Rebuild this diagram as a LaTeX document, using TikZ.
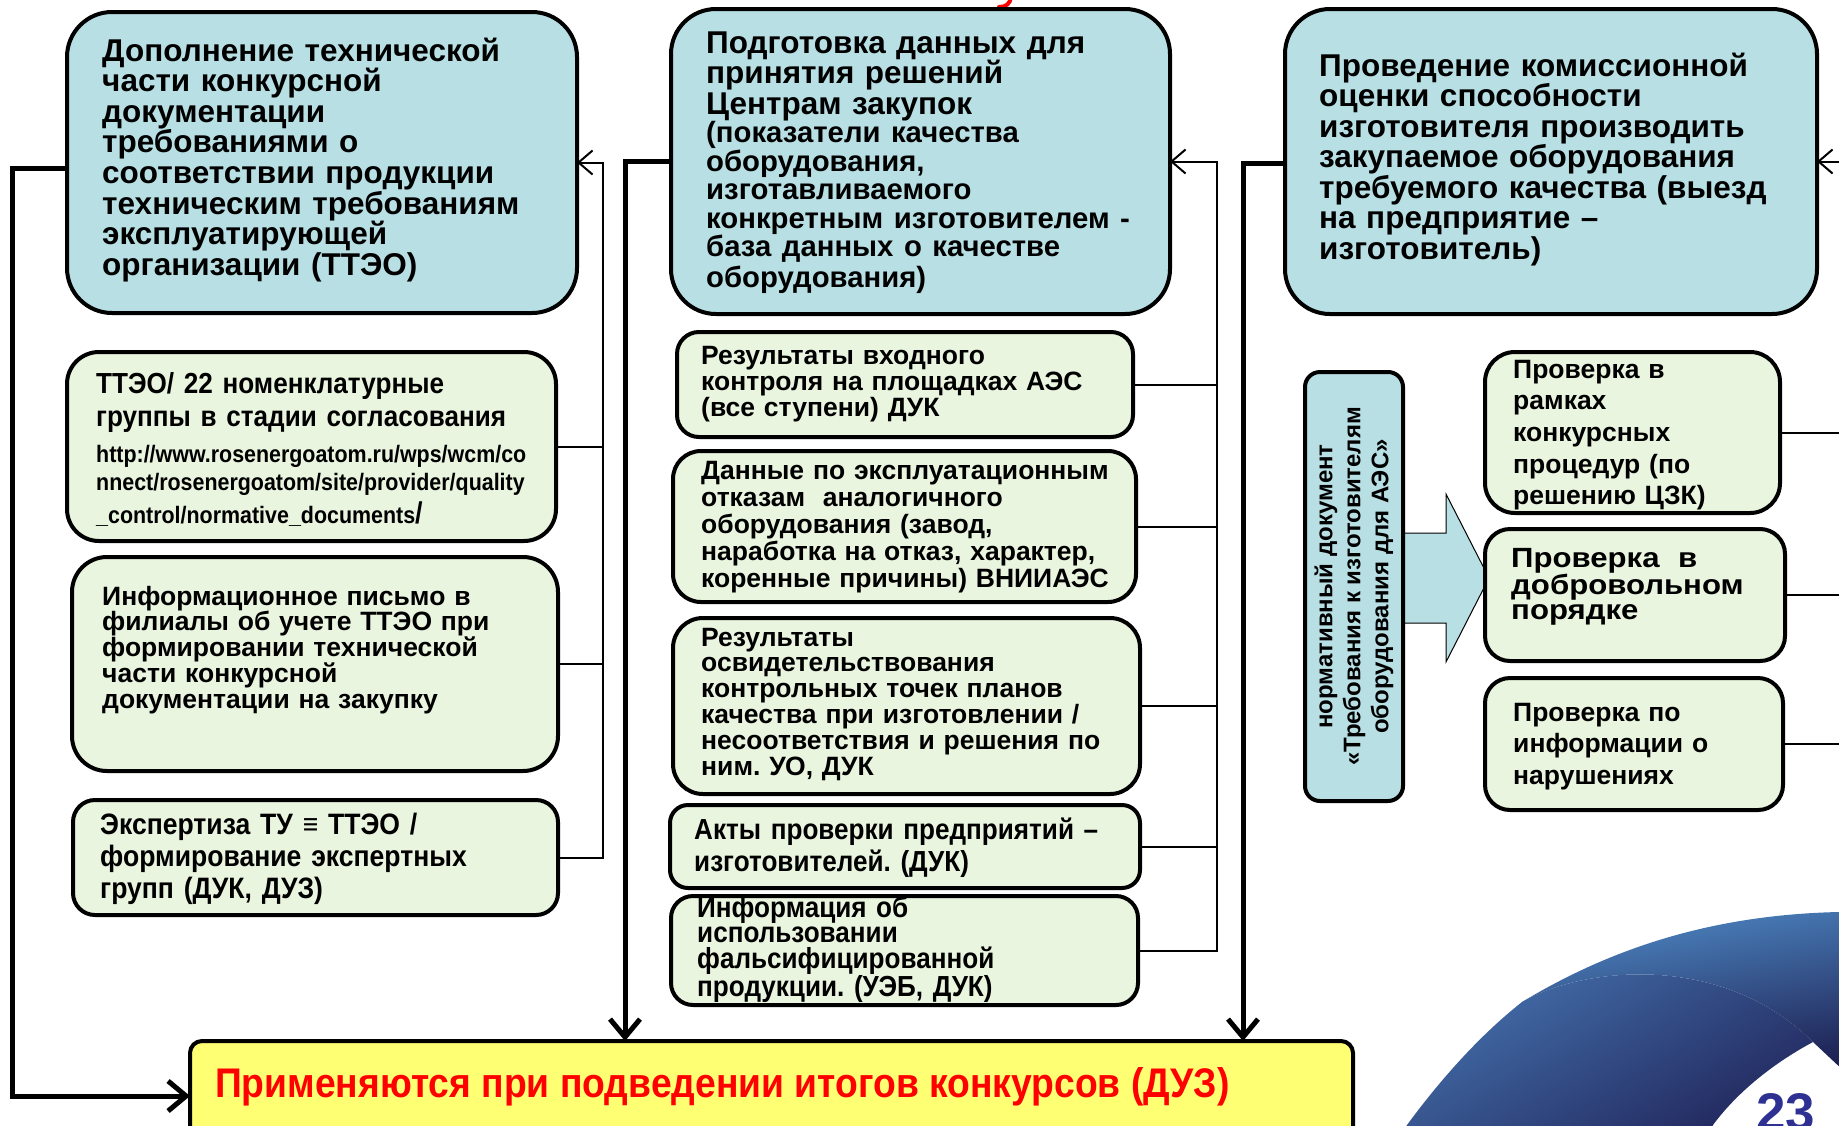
\documentclass[tikz,border=0pt]{standalone}
\usepackage{fontspec}
\setmainfont{Liberation Sans}
\newfontfamily\narrowf[FakeStretch=0.9]{Liberation Sans}
\newfontfamily\widef[FakeStretch=1.12]{Liberation Sans}
\usetikzlibrary{arrows.meta}
\definecolor{boxblue}{RGB}{184,223,228}
\definecolor{boxgreen}{RGB}{234,245,224}
\definecolor{boxyellow}{RGB}{255,255,115}
\definecolor{pagenum}{RGB}{46,49,146}
\definecolor{swA}{RGB}{70,116,176}
\definecolor{swB}{RGB}{34,40,94}
\definecolor{swC}{RGB}{78,136,196}
\definecolor{swD}{RGB}{30,34,84}
\tikzset{
  blueb/.style={draw=black, line width=4pt, fill=boxblue, rounded corners=45pt, outer sep=0pt, inner sep=0pt, anchor=north west},
  greenb/.style={draw=black, line width=4pt, fill=boxgreen, outer sep=0pt, inner sep=0pt, anchor=north west},
  yellowb/.style={draw=black, line width=4pt, fill=boxyellow, rounded corners=12pt, outer sep=0pt, inner sep=0pt, anchor=north west},
  vbox/.style={draw=black, line width=4pt, fill=boxblue, rounded corners=15pt, outer sep=0pt, inner sep=0pt, anchor=north west},
  txt/.style={anchor=base west, align=left, text width=#1, inner sep=0pt},
  txt/.default=470pt,
  conn/.style={draw=black, line width=2pt},
  heavy/.style={draw=black, line width=5pt},
  tothin/.style={-{Straight Barb[length=14pt,width=24pt]}},
  tobig/.style={-{Straight Barb[length=18pt,width=30pt]}},
  blockarr/.style={draw=black, line width=1pt, fill=boxblue}
}
\frenchspacing
\begin{document}
\begin{tikzpicture}[x=1pt,y=-1pt]
\useasboundingbox (0,0) rectangle (1839,1125);
% decoration bottom right
\shade[left color=swA, right color=swB, shading angle=30]
  (1398,1140) -- (1407,1125) .. controls (1440,1080) and (1480,1035) .. (1522,1002)
  .. controls (1580,968) and (1720,950) .. (1813,1042)
  .. controls (1770,1065) and (1735,1095) .. (1713,1125) -- (1705,1140) -- cycle;
\shade[left color=swC, right color=swD, shading angle=10]
  (1522,1002) .. controls (1600,955) and (1700,915) .. (1839,912) -- (1845,912) -- (1845,1072)
  -- (1813,1042) .. controls (1720,950) and (1580,968) .. (1522,1002) -- cycle;
\node[anchor=base west, inner sep=0pt, text=pagenum, font=\bfseries\fontsize{53}{53}\selectfont] (pg) at (1756,1130) {23};
% red fragment of title above
\draw[red, line width=4pt, line cap=round] (1011,-3) .. controls (1010,4) and (1006,7) .. (999,7);
% block arrow
\draw[blockarr] (1403,533) -- (1446,533) -- (1446,494) -- (1489,578) -- (1446,662) -- (1446,623) -- (1403,623) -- cycle;
% boxes
\node[blueb, minimum width=510, minimum height=301] (A) at (67,12) {};
\node[blueb, minimum width=499, minimum height=305] (B) at (671,9) {};
\node[blueb, minimum width=532, minimum height=305] (C) at (1285,9) {};
\node[greenb, rounded corners=32pt, minimum width=489, minimum height=189] (L1) at (67,352) {};
\node[greenb, rounded corners=35pt, minimum width=486, minimum height=214] (L2) at (72,557) {};
\node[greenb, rounded corners=22pt, minimum width=485, minimum height=115] (L3) at (73,800) {};
\node[greenb, rounded corners=22pt, minimum width=456, minimum height=105] (M1) at (677,332) {};
\node[greenb, rounded corners=28pt, minimum width=463, minimum height=151] (M2) at (673,451) {};
\node[greenb, rounded corners=30pt, minimum width=467, minimum height=176] (M3) at (673,618) {};
\node[greenb, rounded corners=18pt, minimum width=470, minimum height=83] (M4) at (670,805) {};
\node[greenb, rounded corners=22pt, minimum width=467, minimum height=109] (M5) at (671,896) {};
\node[vbox, minimum width=98, minimum height=429] (V) at (1305,372) {};
\node[greenb, rounded corners=30pt, minimum width=295, minimum height=161] (R1) at (1485,352) {};
\node[greenb, rounded corners=25pt, minimum width=300, minimum height=132] (R2) at (1485,529) {};
\node[greenb, rounded corners=25pt, minimum width=298, minimum height=132] (R3) at (1485,678) {};
\node[yellowb, minimum width=1163, minimum height=110] (Y) at (190,1041) {};
% texts
\node[txt, font=\bfseries\fontsize{31.5}{30.6}\selectfont] (tA) at (102,61)
  {Дополнение технической\\части конкурсной\\документации\\требованиями о\\соответствии продукции\\техническим требованиям\\эксплуатирующей\\организации (ТТЭО)};
\node[txt, font=\bfseries\fontsize{31.5}{30.5}\selectfont] (tB) at (706,53)
  {Подготовка данных для\\принятия решений\\Центрам закупок\par\fontsize{29.3}{28.5}\selectfont (показатели качества\\оборудования,\\изготавливаемого\\конкретным изготовителем -\\база данных о качестве\\оборудования)};
\node[txt=500pt, font=\bfseries\fontsize{31.5}{30.5}\selectfont] (tC) at (1319,76)
  {Проведение комиссионной\\оценки способности\\изготовителя производить\\закупаемое оборудования\\требуемого качества (выезд\\на предприятие –\\изготовитель)};
\node[txt, font=\narrowf\bfseries\fontsize{29}{33}\selectfont] (tL1) at (96,393)
  {ТТЭО/ 22 номенклатурные\\группы в стадии согласования\par\vspace{8pt}\fontsize{23.8}{28}\selectfont http://www.rosenergoatom.ru/wps/wcm/co\\nnect/rosenergoatom/site/provider/quality\\\_control/normative\_documents{\fontsize{30}{28}\selectfont/}};
\node[txt, font=\bfseries\fontsize{26.5}{25.8}\selectfont] (tL2) at (102,605)
  {Информационное письмо в\\филиалы об учете ТТЭО при\\формировании технической\\части конкурсной\\документации на закупку};
\node[txt, font=\narrowf\bfseries\fontsize{29.5}{32}\selectfont] (tL3) at (100,834)
  {Экспертиза ТУ ≡ ТТЭО /\\формирование экспертных\\групп (ДУК, ДУЗ)};
\node[txt, font=\bfseries\fontsize{26.5}{26.4}\selectfont] (tM1) at (701,364)
  {Результаты входного\\контроля на площадках АЭС\\(все ступени) ДУК};
\node[txt, font=\bfseries\fontsize{26.5}{27}\selectfont] (tM2) at (701,479)
  {Данные по эксплуатационным\\отказам\ \ аналогичного\\оборудования (завод,\\наработка на отказ, характер,\\коренные причины) ВНИИАЭС};
\node[txt, font=\bfseries\fontsize{26.5}{25.8}\selectfont] (tM3) at (701,646)
  {Результаты\\освидетельствования\\контрольных точек планов\\качества при изготовлении /\\несоответствия и решения по\\ним. УО, ДУК};
\node[txt, font=\narrowf\bfseries\fontsize{29}{32.8}\selectfont] (tM4) at (694,839)
  {Акты проверки предприятий –\\изготовителей. (ДУК)};
\node[txt, font=\narrowf\bfseries\fontsize{29}{25.8}\selectfont] (tM5) at (697,917)
  {Информация об\\использовании\\фальсифицированной\\продукции. (УЭБ, ДУК)};
\node[txt=260pt, font=\bfseries\fontsize{26.5}{31.7}\selectfont] (tR1) at (1513,378)
  {Проверка в\\рамках\\конкурсных\\процедур (по\\решению ЦЗК)};
\node[txt=260pt, font=\widef\bfseries\fontsize{27.8}{25.8}\selectfont] (tR2) at (1511,567)
  {Проверка\ \ в\\добровольном\\порядке};
\node[txt=260pt, font=\bfseries\fontsize{26.5}{31.7}\selectfont] (tR3) at (1513,721)
  {Проверка по\\информации о\\нарушениях};
\node[anchor=center, rotate=90, align=center, inner sep=0pt, font=\bfseries\fontsize{24}{28}\selectfont] (tV) at (V.center)
  {нормативный документ\\«Требования к изготовителям\\оборудования для АЭС»};
\node[anchor=base west, inner sep=0pt, text=red, font=\narrowf\bfseries\fontsize{41.4}{41}\selectfont] (tY) at (215,1097)
  {Применяются при подведении итогов конкурсов (ДУЗ)};
% connectors: left group
\coordinate (lt) at (603,0 |- A.east);
\draw[conn, tothin] (L3.east) -| (lt) -- (A.east);
\draw[conn] (L1.east) -- (L1.east -| lt);
\draw[conn] (L2.east) -- (L2.east -| lt);
% middle group
\coordinate (mt) at (1217,0 |- B.east);
\draw[conn, tothin] (M5.east) -| (mt) -- (B.east);
\draw[conn] (M1.east) -- (M1.east -| mt);
\draw[conn] (M2.east) -- (M2.east -| mt);
\draw[conn] (M3.east) -- (M3.east -| mt);
\draw[conn] (M4.east) -- (M4.east -| mt);
% right group (vertical line lies beyond the page edge)
\coordinate (rt) at (1862,0 |- C.east);
\draw[conn, tothin] (R3.east) -| (rt) -- (C.east);
\draw[conn] (R1.east) -- (R1.east -| rt);
\draw[conn] (R2.east) -- (R2.east -| rt);
% heavy lines into the yellow box
\coordinate (lb) at (12,0 |- Y.west);
\draw[heavy, tobig] ([yshift=-6pt]A.west) -| (lb) -- (Y.west);
\draw[heavy, tobig] (B.west) -| (625,0 |- Y.north);
\draw[heavy, tobig] ([yshift=-2pt]C.west) -| (1243,0 |- Y.north);
\end{tikzpicture}
\end{document}
